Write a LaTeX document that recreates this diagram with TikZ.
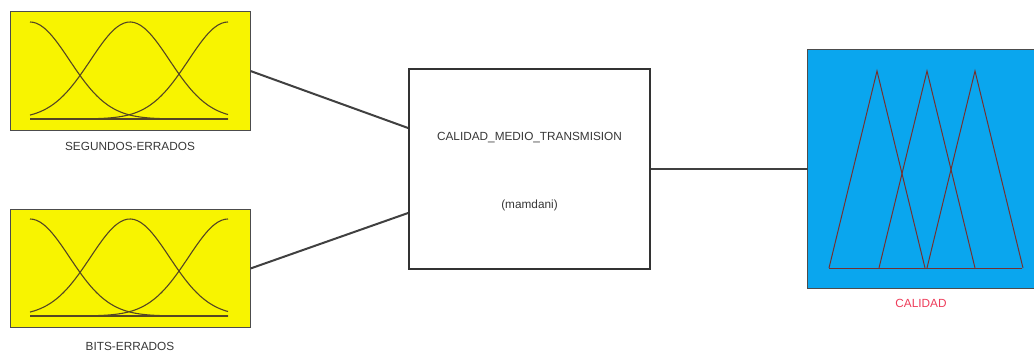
\documentclass[tikz,border=0pt]{standalone}
\usepackage{fontspec}
\setmainfont{Liberation Sans}
\usepackage{xcolor}
\usetikzlibrary{positioning, calc}

\definecolor{inyellow}{RGB}{248,244,0}
\definecolor{outblue}{RGB}{10,166,238}
\definecolor{mfline}{RGB}{85,70,35}
\definecolor{trline}{RGB}{115,50,50}
\definecolor{txtgray}{RGB}{55,55,55}
\definecolor{outred}{RGB}{238,60,90}

\begin{document}
\begin{tikzpicture}[x=1pt,y=-1pt,
  inbox/.style={draw=black!70, line width=1pt, fill=inyellow, minimum width=240pt, minimum height=118pt, inner sep=0pt},
  rulebox/.style={draw=black!80, line width=1.8pt, fill=white, minimum width=241pt, minimum height=200pt, inner sep=0pt},
  varlab/.style={text=txtgray, font=\fontsize{11.8}{13}\selectfont, inner sep=0pt},
  wire/.style={draw=black!75, line width=2pt},
  mf/.style={draw=mfline, line width=1.1pt, smooth, samples=60}]
\useasboundingbox (0,0) rectangle (1034,353);

% Input variables
\node[inbox] (segs) at (130,71) {};
\node[varlab, below=12pt of segs] (segslab) {SEGUNDOS-ERRADOS};
\node[inbox] (bits) at (130,268.5) {};
\node[varlab, below=14pt of bits] (bitslab) {BITS-ERRADOS};

% Gaussian membership functions
\foreach \dy in {0,197} {
  \draw[mf] (30,119+\dy) -- (228,119+\dy);
  \foreach \c in {30,130,228}
    \draw[mf] plot[domain=30:228] (\x,{119+\dy-97*exp(-((\x-\c)/10)^2/31.2)});
}

% Rule block
\node[rulebox] (rules) at (529.5,169) {};
\node[varlab] (rulename) at ([yshift=31pt]rules.center) {CALIDAD\_MEDIO\_TRANSMISION};
\node[varlab] (ruletype) at ([yshift=-36pt]rules.center) {(mamdani)};

% Output variable
\node[fill=outblue, minimum width=226pt, minimum height=238pt, inner sep=0pt] (cal) at (921,169) {};
\draw[black!70, line width=1.2pt] (cal.north east) -- (cal.north west) -- (cal.south west) -- (cal.south east);
\node[varlab, text=outred, below=11pt of cal] (callab) {CALIDAD};

% Triangular membership functions
\draw[trline, line width=1pt] (829,268) -- (1022,268);
\foreach \p in {877,927,975}
  \draw[trline, line width=1pt] (\p-48,268) -- (\p,71) -- (\p+48,268);

% Connections
\draw[wire] (segs.east) -- ([yshift=41pt]rules.west);
\draw[wire] (bits.east) -- ([yshift=-44pt]rules.west);
\draw[wire] (rules.east) -- (cal.west);
\end{tikzpicture}
\end{document}
